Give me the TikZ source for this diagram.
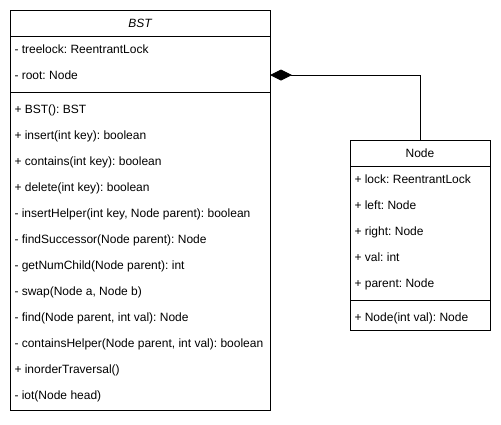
\documentclass[tikz,border=0pt]{standalone}
\usepackage{fontspec}
\setmainfont{Liberation Sans}
\usetikzlibrary{arrows.meta}
\frenchspacing

\tikzset{
  classbox/.style={draw,line width=1pt,anchor=north west,inner sep=0pt},
  member/.style={anchor=base west,inner sep=0pt,font=\fontsize{12}{14}\selectfont},
  classname/.style={anchor=base,inner sep=0pt,font=\fontsize{12}{14}\selectfont},
}

\begin{document}
\begin{tikzpicture}[x=1pt,y=-1pt,line width=1pt]
  \useasboundingbox (0,0) rectangle (501,424);
  % BST class
  \begin{scope}[shift={(10,10)}]
    \node[classbox,minimum width=260pt,minimum height=400pt] (bst) at (0,0) {};
    \node[classname,font=\fontsize{12}{14}\selectfont\itshape] (bst-name) at (130,17) {BST};
    \draw (0,26) -- (260,26);
    \foreach \t [count=\i] in {- treelock: ReentrantLock,- root: Node}{
      \node[member] (bst-a\i) at (4,{17+26*\i}) {\t};
    }
    \draw (0,82) -- (260,82);
    \foreach \t [count=\i] in {+ BST(): BST,
        + insert(int key): boolean,
        + contains(int key): boolean,
        + delete(int key): boolean,
        {- insertHelper(int key, Node parent): boolean},
        - findSuccessor(Node parent): Node,
        - getNumChild(Node parent): int,
        {- swap(Node a, Node b)},
        {- find(Node parent, int val): Node},
        {- containsHelper(Node parent, int val): boolean},
        + inorderTraversal(),
        - iot(Node head)}{
      \node[member] (bst-m\i) at (4,{77+26*\i}) {\t};
    }
    \coordinate (bst-link) at (260,65);
  \end{scope}
  % Node class
  \begin{scope}[shift={(350,140)}]
    \node[classbox,minimum width=140pt,minimum height=190pt] (node) at (0,0) {};
    \node[classname] (node-name) at (70,17) {Node};
    \draw (0,26) -- (140,26);
    \foreach \t [count=\i] in {+ lock: ReentrantLock,+ left: Node,+ right: Node,
        + val: int,+ parent: Node}{
      \node[member] (node-a\i) at (4,{17+26*\i}) {\t};
    }
    \draw (0,160) -- (140,160);
    \node[member] (node-m1) at (4,181) {+ Node(int val): Node};
  \end{scope}
  % composition
  \draw[{Diamond[length=22pt,width=11pt]}-] (bst-link) -| (node.north);
\end{tikzpicture}
\end{document}
